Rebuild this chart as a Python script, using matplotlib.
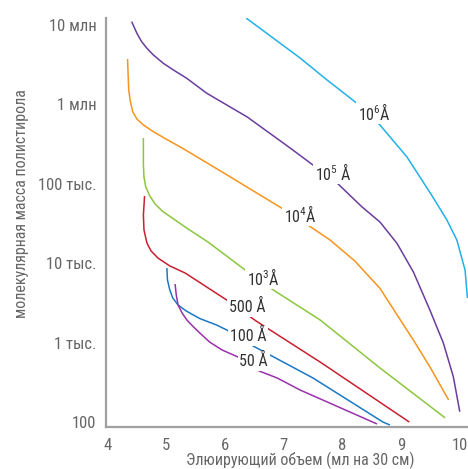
import matplotlib
matplotlib.use("Agg")
from matplotlib import pyplot as plt
from matplotlib.ticker import FixedLocator, FixedFormatter, NullLocator

# Калибровочные кривые: элюирующий объем (мл на 30 см) и молекулярная масса полистирола
vol_1e6 = [6.36, 7.28, 7.74, 8.33, 8.64, 9.10, 9.54, 9.78, 9.95, 10.09, 10.13]
mw_1e6 = [1.21e7, 3.80e6, 2.01e6, 9.2e5, 5.47e5, 2.17e5, 6.81e4, 3.50e4, 1.96e4, 8.2e3, 3.66e3]

vol_1e5 = [4.41, 4.50, 4.58, 4.67, 4.78, 4.95, 5.12, 5.35, 5.69, 6.38, 7.11, 7.57, 7.91, 8.33,
           8.64, 8.93, 9.21, 9.49, 9.72, 9.89, 10.00]
mw_1e5 = [1.09e7, 7.76e6, 6.10e6, 5.04e6, 4.15e6, 3.26e6, 2.69e6, 2.11e6, 1.37e6, 6.89e5,
          2.81e5, 1.57e5, 1.02e5, 5.14e4, 3.30e4, 1.78e4, 7.76e3, 2.59e3, 995, 375, 136]

vol_1e4 = [4.34, 4.35, 4.36, 4.39, 4.43, 4.50, 4.61, 4.78, 4.98, 5.27, 5.92, 7.02, 7.41, 7.79,
           8.21, 8.64, 9.21, 9.49, 9.81]
mw_1e4 = [3.69e6, 2.32e6, 1.51e6, 1.06e6, 7.96e5, 6.50e5, 5.47e5, 4.51e5, 3.70e5, 2.81e5,
          1.45e5, 4.67e4, 3.03e4, 1.96e4, 1.07e4, 4.84e3, 1.08e3, 501, 191]

vol_1e3 = [4.61, 4.61, 4.62, 4.65, 4.72, 4.81, 4.93, 5.10, 5.37, 5.71, 6.39, 6.77, 7.62, 8.64, 9.75]
mw_1e3 = [3.75e5, 1.72e5, 1.21e5, 9.1e4, 7.0e4, 5.56e4, 4.54e4, 3.71e4, 2.70e4, 1.85e4,
          7.76e3, 4.89e3, 1.94e3, 483, 114]

vol_500 = [4.63, 4.61, 4.62, 4.67, 4.74, 4.86, 5.06, 5.32, 6.03, 6.53, 7.62, 9.14]
mw_500 = [7.0e4, 4.04e4, 2.62e4, 1.80e4, 1.43e4, 1.16e4, 9.25e3, 7.55e3, 3.45e3, 1.88e3, 574, 101]

vol_100 = [5.01, 5.02, 5.06, 5.11, 5.20, 5.34, 5.57, 5.86, 6.03, 6.48, 7.50, 8.69, 8.81]
mw_100 = [8.71e3, 6.17e3, 4.61e3, 3.66e3, 2.99e3, 2.51e3, 2.02e3, 1.67e3, 1.45e3, 912, 361, 101, 92.7]

vol_50 = [5.15, 5.17, 5.20, 5.27, 5.35, 5.44, 5.57, 5.74, 5.95, 6.22, 6.58, 6.89, 7.28, 8.59]
mw_50 = [5.48e3, 3.99e3, 2.99e3, 2.37e3, 1.94e3, 1.65e3, 1.33e3, 1.02e3, 813, 664, 443, 361, 255, 95.5]

x_ticks = [4, 5, 6, 7, 8, 9, 10]
y_ticks = [1e2, 1e3, 1e4, 1e5, 1e6, 1e7]
y_tick_labels = ["100", "1 тыс.", "10 тыс.", "100 тыс.", "1 млн", "10 млн"]

curves = [
    (vol_1e6, mw_1e6, "#22b0e6", r"10$^{6}$Å", (8.54, 7.96e5)),
    (vol_1e5, mw_1e5, "#6a3d9e", r"10$^{5}$ Å", (7.84, 1.40e5)),
    (vol_1e4, mw_1e4, "#f7941d", r"10$^{4}$Å", (7.28, 4.16e4)),
    (vol_1e3, mw_1e3, "#8cc63f", r"10$^{3}$Å", (6.65, 6.71e3)),
    (vol_500, mw_500, "#c9202f", "500 Å", (6.38, 2.82e3)),
    (vol_100, mw_100, "#1b78c4", "100 Å", (6.39, 1.22e3)),
    (vol_50, mw_50, "#9a30ac", "50 Å", (6.49, 5.92e2)),
]

plt.rcParams["font.family"] = ["Roboto Condensed", "Liberation Sans Narrow", "Roboto", "DejaVu Sans"]
plt.rcParams["mathtext.default"] = "regular"

fig = plt.figure(figsize=(4.68, 4.69), dpi=100)
ax = fig.add_axes([0.2265, 0.0906, 0.7735, 0.871])

for vol, mw, color, label, pos in curves:
    ax.plot(vol, mw, color=color, lw=1.1, zorder=2, solid_capstyle="butt", solid_joinstyle="round")
    ax.text(pos[0], pos[1], label, ha="center", va="center", fontsize=11.5,
            color="#333333", zorder=3,
            bbox=dict(boxstyle="square,pad=0.1", fc="white", ec="none"))

ax.set_yscale("log")
ax.set_xlim(3.973, 10.14)
ax.set_ylim(88.7, 1.21e7)

ax.xaxis.set_major_locator(FixedLocator(x_ticks))
ax.xaxis.set_major_formatter(FixedFormatter([str(v) for v in x_ticks]))
ax.yaxis.set_major_locator(FixedLocator(y_ticks))
ax.yaxis.set_major_formatter(FixedFormatter(y_tick_labels))
ax.yaxis.set_minor_locator(NullLocator())
ax.tick_params(length=0, labelsize=12, labelcolor="#666666")
ax.tick_params(axis="y", pad=7)
ax.tick_params(axis="x", pad=8)

for side in ["top", "right"]:
    ax.spines[side].set_visible(False)
for side in ["left", "bottom"]:
    ax.spines[side].set_color("#a0a0a0")
    ax.spines[side].set_linewidth(1.6)

ax.set_xlabel("Элюирующий объем (мл на 30 см)", fontsize=11.5, color="#666666")
ax.xaxis.set_label_coords(0.536, -0.062)
ax.set_ylabel("молекулярная масса полистирола", fontsize=11.5, color="#666666")
ax.yaxis.set_label_coords(-0.213, 0.545)

fig.savefig("out.png", dpi=100)
